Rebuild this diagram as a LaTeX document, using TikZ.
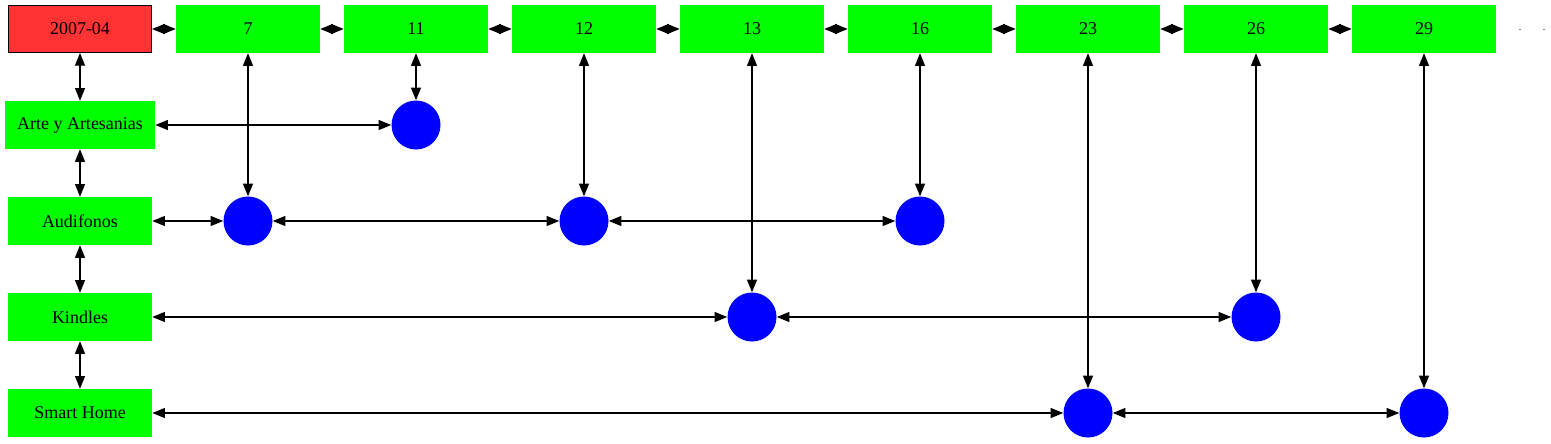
\documentclass[tikz,border=0pt]{standalone}
\usepackage{fontspec}
\setmainfont{Liberation Serif}
\usetikzlibrary{arrows.meta}
\definecolor{gvred}{HTML}{FF3333}
\definecolor{gvgreen}{HTML}{00FF00}
\definecolor{gvblue}{HTML}{0000FF}
\tikzset{
  datebox/.style={draw=black, line width=0.75pt, fill=gvred, minimum width=107.25pt, minimum height=35.25pt, inner sep=0pt, font=\fontsize{13.5}{16}\selectfont},
  numbox/.style={fill=gvgreen, minimum width=108pt, minimum height=36pt, inner sep=0pt, font=\fontsize{13.5}{16}\selectfont},
  catbox/.style={fill=gvgreen, minimum width=108pt, minimum height=36pt, inner sep=0pt, font=\fontsize{13.5}{16}\selectfont},
  widecat/.style={catbox, minimum width=112.5pt},
  dot/.style={circle, fill=gvblue, minimum size=36.75pt, inner sep=0pt},
  tinydot/.style={fill=gray, minimum width=1.5pt, minimum height=0.75pt, inner sep=0pt},
  link/.style={{Triangle[length=9.5pt,width=7.5pt]}-{Triangle[length=9.5pt,width=7.5pt]}, line width=0.9pt, black},
}
\begin{document}
\begin{tikzpicture}[x=0.75pt, y=-0.75pt]
\useasboundingbox (0,0) rectangle (1551,443);
% top row
\node[datebox] (d) at (80,29) {2007-04};
\node[numbox] (n7) at (248,29) {7};
\node[numbox] (n11) at (416,29) {11};
\node[numbox] (n12) at (584,29) {12};
\node[numbox] (n13) at (752,29) {13};
\node[numbox] (n16) at (920,29) {16};
\node[numbox] (n23) at (1088,29) {23};
\node[numbox] (n26) at (1256,29) {26};
\node[numbox] (n29) at (1424,29) {29};
\node[tinydot] (e1) at (1520,29) {};
\node[tinydot] (e2) at (1544,29) {};
% categories
\node[widecat] (arte) at (80,125) {Arte y Artesanias};
\node[catbox] (audi) at (80,221) {Audifonos};
\node[catbox] (kind) at (80,317) {Kindles};
\node[catbox] (smart) at (80,413) {Smart Home};
% circles
\node[dot] (a11) at (416,125) {};
\node[dot] (b7) at (248,221) {};
\node[dot] (b12) at (584,221) {};
\node[dot] (b16) at (920,221) {};
\node[dot] (k13) at (752,317) {};
\node[dot] (k26) at (1256,317) {};
\node[dot] (s23) at (1088,413) {};
\node[dot] (s29) at (1424,413) {};
% top row links
\draw[link] (d) -- (n7);
\draw[link] (n7) -- (n11);
\draw[link] (n11) -- (n12);
\draw[link] (n12) -- (n13);
\draw[link] (n13) -- (n16);
\draw[link] (n16) -- (n23);
\draw[link] (n23) -- (n26);
\draw[link] (n26) -- (n29);
% left column
\draw[link] (d) -- (arte);
\draw[link] (arte) -- (audi);
\draw[link] (audi) -- (kind);
\draw[link] (kind) -- (smart);
% columns
\draw[link] (n7) -- (b7);
\draw[link] (n11) -- (a11);
\draw[link] (n12) -- (b12);
\draw[link] (n13) -- (k13);
\draw[link] (n16) -- (b16);
\draw[link] (n23) -- (s23);
\draw[link] (n26) -- (k26);
\draw[link] (n29) -- (s29);
% rows
\draw[link] (arte) -- (a11);
\draw[link] (audi) -- (b7);
\draw[link] (b7) -- (b12);
\draw[link] (b12) -- (b16);
\draw[link] (kind) -- (k13);
\draw[link] (k13) -- (k26);
\draw[link] (smart) -- (s23);
\draw[link] (s23) -- (s29);
\end{tikzpicture}
\end{document}
